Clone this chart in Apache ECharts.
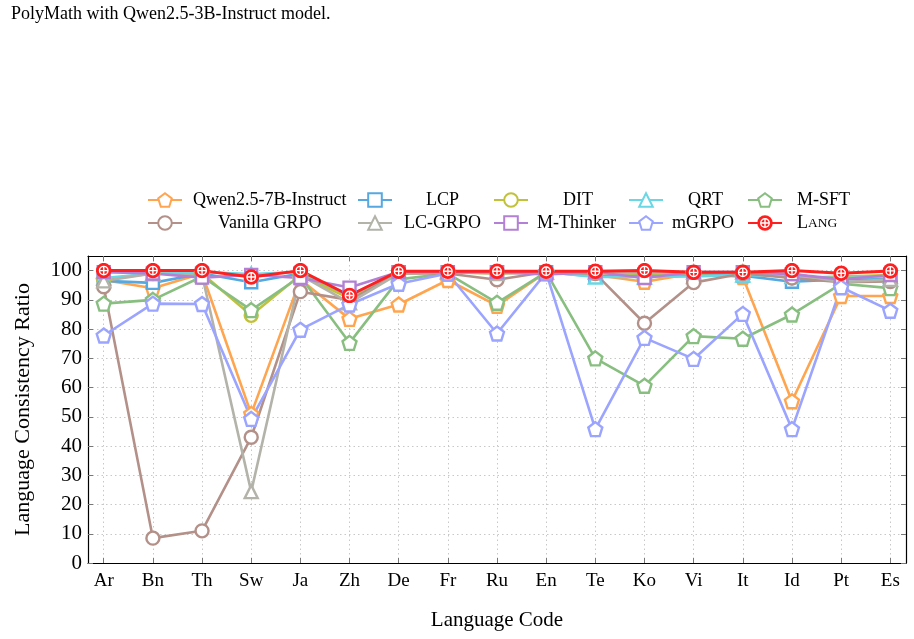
<!DOCTYPE html>
<html>
<head>
<meta charset="utf-8">
<script src="https://cdn.jsdelivr.net/npm/echarts@6/dist/echarts.min.js"></script>
<style>html,body{margin:0;padding:0;background:#fff;}#c{width:914px;height:639px;}</style>
</head>
<body>
<div id="c"></div>
<script>
const categories = ['Ar','Bn','Th','Sw','Ja','Zh','De','Fr','Ru','En','Te','Ko','Vi','It','Id','Pt','Es'];
const yTicks = [0,10,20,30,40,50,60,70,80,90,100];

const qwen      = [96.8, 94.0, 99.0, 51.0, 97.0, 83.5, 88.4, 96.8, 88.0, 99.5, 98.5, 96.2, 99.0, 97.8, 55.3, 91.3, 91.3];
const lcp       = [96.5, 95.8, 99.0, 96.0, 99.0, 91.0, 99.5, 99.5, 99.5, 99.5, 98.0, 98.5, 98.5, 98.3, 96.2, 97.0, 97.3];
const dit       = [97.0, 99.0, 99.0, 84.7, 98.5, 90.5, 99.0, 99.5, 99.0, 99.5, 99.0, 99.0, 99.0, 99.5, 97.5, 98.0, 98.5];
const qrt       = [97.5, 99.0, 99.5, 98.8, 99.5, 91.5, 99.5, 99.5, 99.5, 99.5, 97.8, 97.8, 98.0, 98.5, 98.0, 97.5, 98.0];
const msft      = [88.7, 90.0, 98.0, 86.5, 98.0, 75.3, 97.0, 99.0, 89.0, 99.5, 70.0, 60.6, 77.6, 76.7, 85.0, 95.5, 94.0];
const vanilla   = [94.5,  8.5, 11.0, 43.0, 92.8, 90.0, 99.0, 99.0, 96.9, 99.5, 99.0, 82.0, 95.9, 99.0, 97.5, 96.0, 96.3];
const lcgrpo    = [96.5, 99.0, 98.5, 24.4, 98.5, 89.0, 99.0, 99.5, 99.0, 99.5, 99.5, 99.5, 99.5, 99.5, 99.0, 96.0, 97.0];
const mthinker  = [99.5, 99.0, 97.6, 98.5, 97.5, 94.2, 99.5, 99.5, 99.5, 98.7, 99.5, 97.5, 99.5, 99.5, 98.8, 97.0, 98.5];
const mgrpo     = [77.8, 88.7, 88.6, 49.3, 79.8, 88.4, 95.5, 99.0, 78.5, 99.3, 45.8, 77.0, 69.8, 85.2, 45.8, 94.3, 86.3];
const lang      = [100.0, 100.0, 100.0, 97.8, 100.0, 91.5, 99.8, 99.8, 99.8, 99.8, 99.8, 100.0, 99.4, 99.4, 100.0, 99.1, 99.9];

const FONT = '"Liberation Serif", "Times New Roman", serif';
const pent = 'path://M0,-1 L0.951,-0.309 L0.588,0.809 L-0.588,0.809 L-0.951,-0.309 Z';
const langSvg = "<svg xmlns='http://www.w3.org/2000/svg' width='32' height='32' viewBox='0 0 32 32'><circle cx='16' cy='16' r='15.5' fill='%23FF1F1F'/><circle cx='16' cy='16' r='8.5' fill='none' stroke='%23ffffff' stroke-width='2.8'/><path d='M16 7.5V24.5M7.5 16H24.5' stroke='%23ffffff' stroke-width='2.8'/></svg>";
const langSym = 'image://data:image/svg+xml;utf8,' + langSvg.replace(/</g,'%3C').replace(/>/g,'%3E');

const seriesDefs = [
  {name:'Qwen2.5-7B-Instruct', data:qwen, color:'#FFA54F', symbol:pent, size:14, leg:[147,200,6]},
  {name:'LCP', data:lcp, color:'#55A8E0', symbol:'rect', size:12, leg:[357,200,29]},
  {name:'DIT', data:dit, color:'#C2C23A', symbol:'circle', size:13, leg:[493,200,30]},
  {name:'QRT', data:qrt, color:'#6AD8E4', symbol:'triangle', size:13, leg:[628,200,20]},
  {name:'M-SFT', data:msft, color:'#88BF80', symbol:pent, size:14, leg:[747,200,10]},
  {name:'Vanilla GRPO', data:vanilla, color:'#B39189', symbol:'circle', size:13, leg:[147,223,31]},
  {name:'LC-GRPO', data:lcgrpo, color:'#B3B3AA', symbol:'triangle', size:13, leg:[357,223,7]},
  {name:'M-Thinker', data:mthinker, color:'#B280D4', symbol:'rect', size:12, leg:[493,223,4]},
  {name:'mGRPO', data:mgrpo, color:'#9BA4FF', symbol:pent, size:14, leg:[628,223,4]},
  {name:'LANG', data:lang, color:'#FF1F1F', symbol:langSym, size:16, leg:[747,223,10]}
];

const series = seriesDefs.map(function(d){
  const isLang = d.name === 'LANG';
  return {
    name: d.name,
    type: 'line',
    xAxisIndex: 0, yAxisIndex: 0,
    data: d.data.map(function(v,i){ return [i, v]; }),
    symbol: d.symbol,
    symbolSize: d.size,
    color: d.color,
    lineStyle: {color: d.color, width: isLang ? 3 : 2.6},
    itemStyle: isLang ? {color: d.color} : {color:'#ffffff', borderColor: d.color, borderWidth: 2.4},
    emphasis: {disabled: true},
    animation: false
  };
});

const legends = seriesDefs.map(function(d){
  const isLang = d.name === 'LANG';
  return {
    data: [d.name],
    left: d.leg[0],
    top: d.leg[1] - 9,
    itemWidth: 34,
    itemHeight: isLang ? 20 : 17,
    padding: 0,
    selectedMode: false,
    formatter: isLang ? '{a|L}{b|ANG}' : '{name}',
    textStyle: {
      fontFamily: FONT, fontSize: 18, color:'#000',
      padding: [0,0,0,d.leg[2]],
      rich: {a:{fontFamily:FONT,fontSize:18,color:'#000'}, b:{fontFamily:FONT,fontSize:13.5,color:'#000'}}
    }
  };
});

const idx = categories.map(function(c,i){ return i; });

const option = {
  backgroundColor: '#fff',
  animation: false,
  title: {
    text: 'PolyMath with Qwen2.5-3B-Instruct model.',
    left: 11, top: 5, padding: 0,
    textStyle: {fontFamily: FONT, fontSize: 18, fontWeight: 'normal', color:'#000'}
  },
  legend: legends,
  grid: {left: 88, right: 8, top: 256, bottom: 76, containLabel: false},
  xAxis: [
    {
      type: 'value', min: -0.32, max: 16.32, position: 'bottom',
      name: 'Language Code', nameLocation: 'middle', nameGap: 47,
      nameTextStyle: {fontFamily: FONT, fontSize: 21, color:'#000'},
      axisLine: {show: true, onZero: false, lineStyle: {color:'#000', width: 1.2}},
      axisTick: {show: true, inside: true, length: 5, customValues: idx, lineStyle: {color:'#777'}},
      axisLabel: {customValues: idx, margin: 9, fontFamily: FONT, fontSize: 19, color:'#000',
        formatter: function(v){ return categories[Math.round(v)] || ''; }},
      splitLine: {show: true, customValues: idx, lineStyle: {color:'#c8c8c8', type: [1.5,3], width: 1}}
    },
    {
      type: 'value', min: -0.32, max: 16.32, position: 'top',
      axisLine: {show: true, onZero: false, lineStyle: {color:'#000', width: 1.2}},
      axisTick: {show: true, inside: true, length: 5, customValues: idx, lineStyle: {color:'#777'}},
      axisLabel: {show: false},
      splitLine: {show: false}
    }
  ],
  yAxis: [
    {
      type: 'value', min: 0, max: 105, interval: 10, position: 'left',
      name: 'Language Consistency Ratio', nameLocation: 'middle', nameGap: 54,
      nameTextStyle: {fontFamily: FONT, fontSize: 22, color:'#000'},
      axisLine: {show: true, onZero: false, lineStyle: {color:'#000', width: 1.2}},
      axisTick: {show: true, inside: true, length: 5, customValues: yTicks, lineStyle: {color:'#777'}},
      axisLabel: {customValues: yTicks, margin: 6, fontFamily: FONT, fontSize: 21, color:'#000'},
      splitLine: {show: true, customValues: yTicks, lineStyle: {color:'#c8c8c8', type: [1.5,3], width: 1}}
    },
    {
      type: 'value', min: 0, max: 105, interval: 10, position: 'right',
      axisLine: {show: true, onZero: false, lineStyle: {color:'#000', width: 1.2}},
      axisTick: {show: true, inside: true, length: 5, customValues: yTicks, lineStyle: {color:'#777'}},
      axisLabel: {show: false},
      splitLine: {show: false}
    }
  ],
  series: series
};

const chart = echarts.init(document.getElementById('c'), null, {renderer: 'canvas'});
chart.setOption(option);
</script>
</body>
</html>
